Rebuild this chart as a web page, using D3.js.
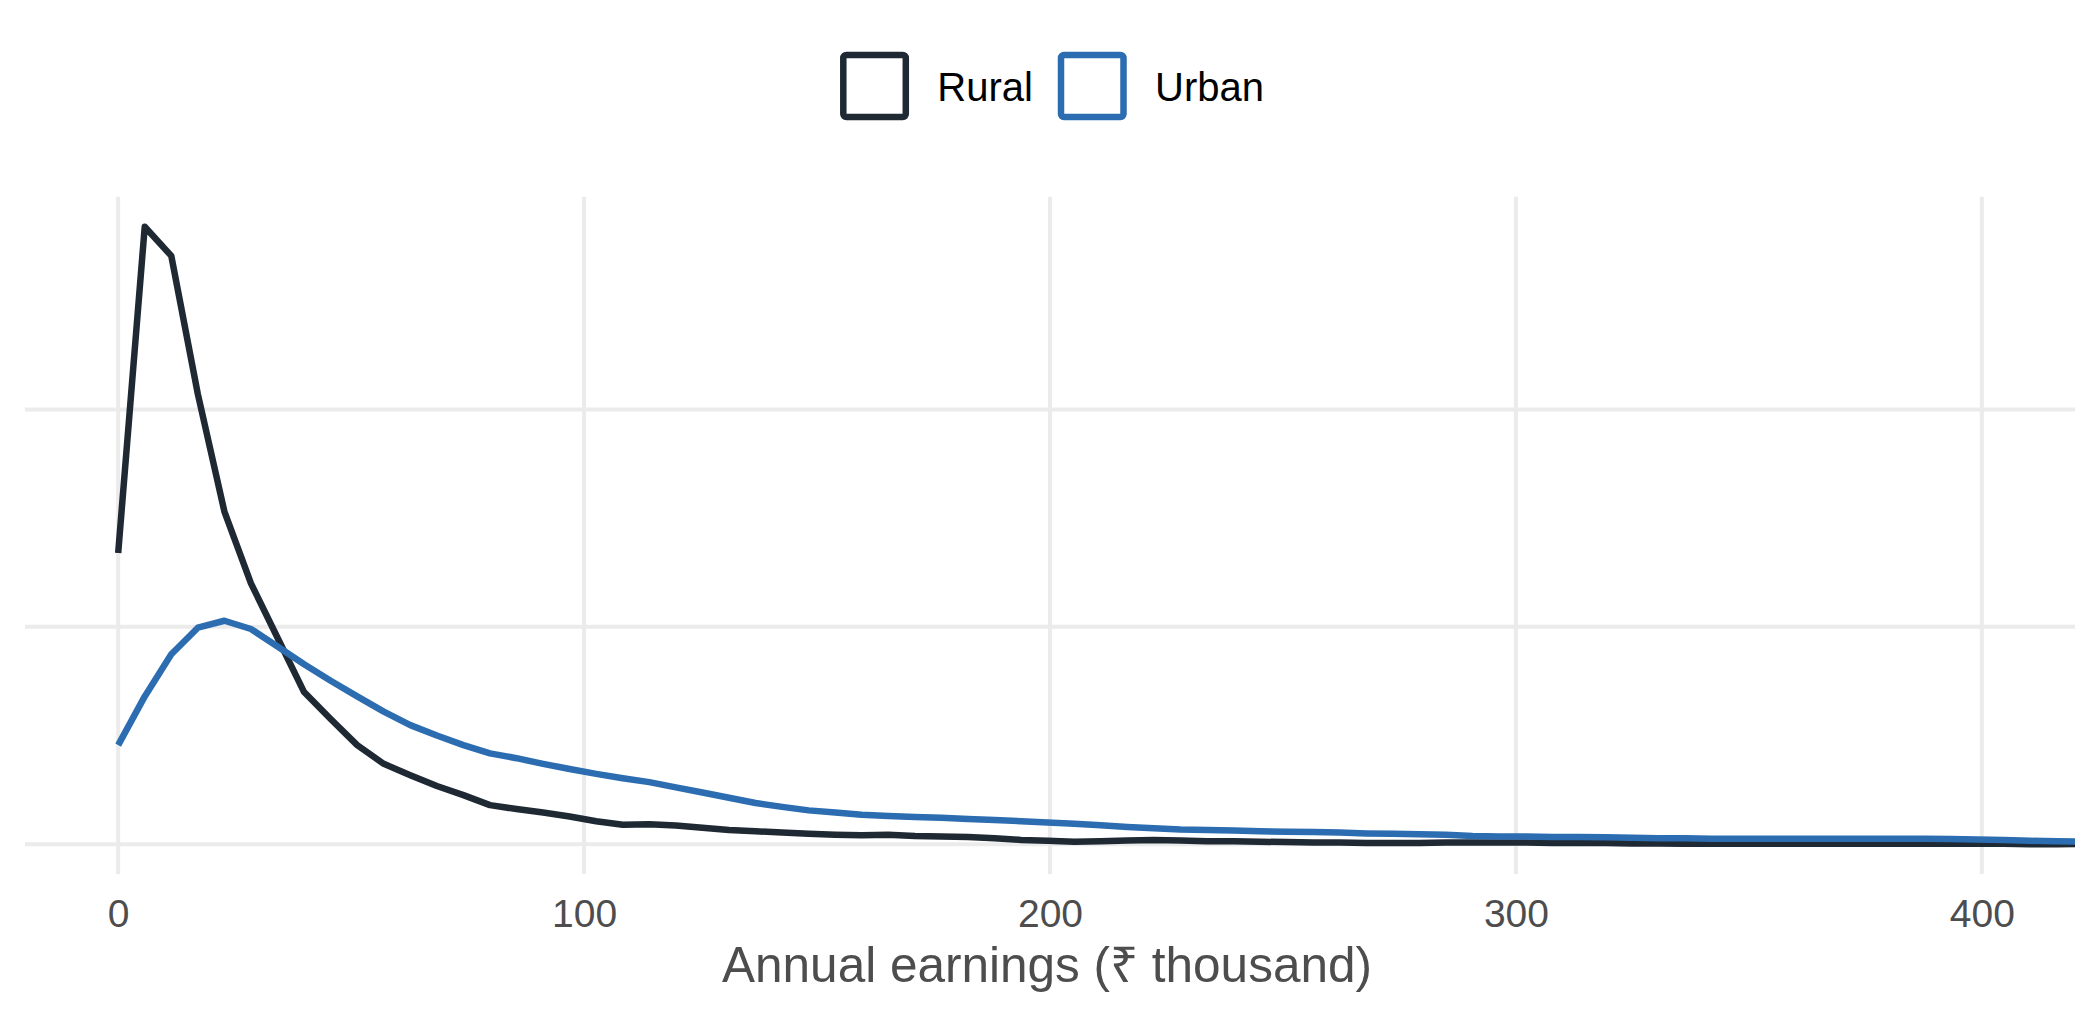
<!DOCTYPE html>
<html>
<head>
<meta charset="utf-8">
<script src="https://cdn.jsdelivr.net/npm/d3@7"></script>
<style>
  html, body { margin: 0; padding: 0; background: #fff; }
  text { font-family: "Liberation Sans", Arial, sans-serif; }
</style>
</head>
<body>
<div id="chart"></div>
<script>
// earnings grid (₹ thousand)
const earnings = [0, 5.7, 11.4, 17.1, 22.8, 28.5, 34.2, 39.9, 45.6, 51.3, 57, 62.7, 68.4, 74.1, 79.8,
  85.5, 91.2, 96.9, 102.6, 108.3, 114, 119.7, 125.4, 131.1, 136.8, 142.5, 148.2, 153.9, 159.6, 165.3,
  171, 176.7, 182.4, 188.1, 193.8, 199.5, 205.2, 210.9, 216.6, 222.3, 228, 233.7, 239.4, 245.1, 250.8,
  256.5, 262.2, 267.9, 273.6, 279.3, 285, 290.7, 296.4, 302.1, 307.8, 313.5, 319.2, 324.9, 330.6, 336.3,
  342, 347.7, 353.4, 359.1, 364.8, 370.5, 376.2, 381.9, 387.6, 393.3, 399, 404.7, 410.4, 416.1, 421.8];

// density, in thousandths
const rural = [6.70, 14.20, 13.53, 10.35, 7.65, 6.00, 4.75, 3.50, 2.88, 2.28, 1.85, 1.59, 1.34, 1.13, 0.90,
  0.81, 0.73, 0.64, 0.53, 0.45, 0.46, 0.43, 0.38, 0.33, 0.30, 0.27, 0.24, 0.22, 0.21, 0.22,
  0.19, 0.18, 0.17, 0.14, 0.10, 0.08, 0.06, 0.07, 0.09, 0.10, 0.09, 0.07, 0.07, 0.06, 0.05,
  0.04, 0.04, 0.03, 0.03, 0.03, 0.04, 0.04, 0.04, 0.04, 0.03, 0.03, 0.03, 0.02, 0.02, 0.01,
  0.01, 0.01, 0.01, 0.01, 0.01, 0.01, 0.01, 0.01, 0.01, 0.01, 0.01, 0.01, 0.00, 0.00, 0.01];

const urban = [2.28, 3.40, 4.37, 4.98, 5.14, 4.95, 4.55, 4.14, 3.76, 3.40, 3.05, 2.74, 2.50, 2.28, 2.09,
  1.98, 1.85, 1.73, 1.62, 1.52, 1.43, 1.31, 1.19, 1.07, 0.95, 0.86, 0.78, 0.73, 0.68, 0.65,
  0.63, 0.61, 0.58, 0.56, 0.53, 0.50, 0.47, 0.44, 0.40, 0.37, 0.34, 0.33, 0.32, 0.30, 0.29,
  0.28, 0.27, 0.25, 0.24, 0.23, 0.22, 0.19, 0.18, 0.18, 0.17, 0.17, 0.16, 0.15, 0.14, 0.14,
  0.13, 0.13, 0.13, 0.13, 0.13, 0.13, 0.13, 0.13, 0.13, 0.12, 0.11, 0.10, 0.08, 0.07, 0.06];

const seriesNames = ["Rural", "Urban"];
const xTicks = [0, 100, 200, 300, 400];
const yTicks = [0, 5, 10];

const w = 2100;
const h = 1020;
const panel = { left: 25, right: 2075, top: 196.7, bottom: 874 };
const colors = { Rural: "#1f2933", Urban: "#2c6cb0" };

const series = [
  { name: "Rural", values: rural },
  { name: "Urban", values: urban }
];

const xScale = d3.scaleLinear()
  .domain([-20, 420])
  .range([panel.left, panel.right]);

const yScale = d3.scaleLinear()
  .domain([-0.683, 14.89])
  .range([panel.bottom, panel.top]);

const svg = d3.select("#chart")
  .append("svg")
  .attr("width", w)
  .attr("height", h);

svg.append("defs").append("clipPath")
  .attr("id", "panel")
  .append("rect")
  .attr("x", panel.left)
  .attr("y", panel.top)
  .attr("width", panel.right - panel.left)
  .attr("height", panel.bottom - panel.top);

// grid
svg.append("g")
  .selectAll("line")
  .data(yTicks)
  .enter()
  .append("line")
  .attr("x1", panel.left)
  .attr("x2", panel.right)
  .attr("y1", d => yScale(d))
  .attr("y2", d => yScale(d))
  .style("stroke", "#ebebeb")
  .style("stroke-width", 4);

svg.append("g")
  .selectAll("line")
  .data(xTicks)
  .enter()
  .append("line")
  .attr("x1", d => xScale(d))
  .attr("x2", d => xScale(d))
  .attr("y1", panel.top)
  .attr("y2", panel.bottom)
  .style("stroke", "#ebebeb")
  .style("stroke-width", 4);

const xAxis = d3.axisBottom(xScale)
  .tickValues(xTicks)
  .tickSize(0)
  .tickPadding(0)
  .tickFormat(d3.format("d"));

const gx = svg.append("g")
  .attr("id", "x-axis")
  .attr("transform", "translate(0," + panel.bottom + ")")
  .call(xAxis);

gx.select(".domain").remove();
gx.selectAll("text")
  .attr("y", 52.7)
  .attr("dy", null)
  .style("font-size", "39px")
  .style("font-family", "'Liberation Sans', Arial, sans-serif")
  .style("fill", "#4d4d4d");

const line = d3.line()
  .x((d, i) => xScale(earnings[i]))
  .y(d => yScale(d));

svg.append("g")
  .attr("clip-path", "url(#panel)")
  .selectAll("path")
  .data(series)
  .enter()
  .append("path")
  .attr("d", d => line(d.values))
  .style("fill", "none")
  .style("stroke", d => colors[d.name])
  .style("stroke-width", 6.5)
  .style("stroke-linejoin", "round");

svg.append("text")
  .attr("x", (panel.left + panel.right) / 2 - 3)
  .attr("y", 981.7)
  .attr("text-anchor", "middle")
  .style("font-size", "49.5px")
  .style("fill", "#4d4d4d")
  .text("Annual earnings (₹ thousand)");

// legend
const legendX = [843.3, 1061];
const legend = svg.selectAll(".legend")
  .data(seriesNames)
  .enter()
  .append("g")
  .attr("class", "legend")
  .attr("transform", (d, i) => "translate(" + legendX[i] + ",0)");

legend.append("rect")
  .attr("x", 0)
  .attr("y", 55)
  .attr("width", 62.5)
  .attr("height", 62)
  .attr("rx", 3)
  .style("fill", "none")
  .style("stroke", d => colors[d])
  .style("stroke-width", 6.5);

legend.append("text")
  .attr("x", 94)
  .attr("y", 101)
  .style("font-size", "40px")
  .style("fill", "#000")
  .text(d => d);
</script>
</body>
</html>
